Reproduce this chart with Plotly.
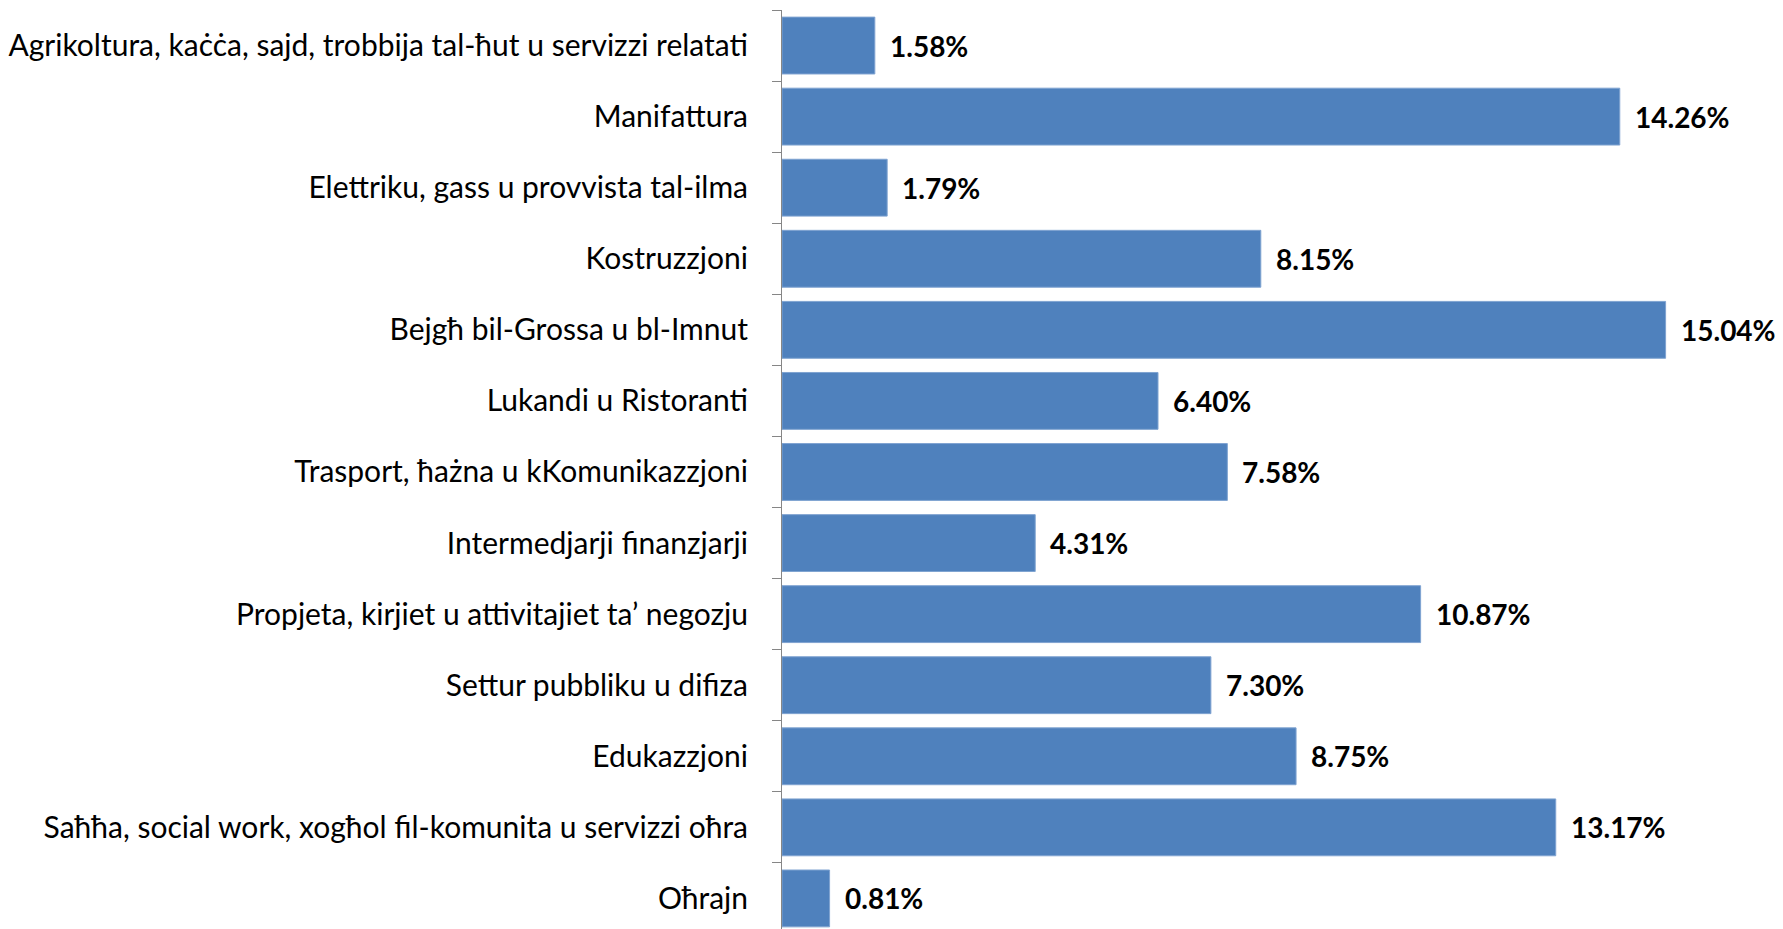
import plotly.graph_objects as go

# Share of employment by sector (Maltese labels)
SECTORS = [
    "Agrikoltura, kaċċa, sajd, trobbija tal-ħut u servizzi relatati",
    "Manifattura",
    "Elettriku, gass u provvista tal-ilma",
    "Kostruzzjoni",
    "Bejgħ bil-Grossa u bl-Imnut",
    "Lukandi u Ristoranti",
    "Trasport, ħażna u kKomunikazzjoni",
    "Intermedjarji finanzjarji",
    "Propjeta, kirjiet u attivitajiet ta’ negozju",
    "Settur pubbliku u difiza",
    "Edukazzjoni",
    "Saħħa, social work, xogħol fil-komunita u servizzi oħra",
    "Oħrajn",
]
SHARES = [1.58, 14.26, 1.79, 8.15, 15.04, 6.40, 7.58, 4.31, 10.87, 7.30, 8.75, 13.17, 0.81]

FONT = "Lato, 'Open Sans', sans-serif"

fig = go.Figure(
    go.Bar(
        x=SHARES,
        y=SECTORS,
        orientation="h",
        marker=dict(color="#4F81BD", line=dict(color="#7FA3D1", width=1)),
        width=0.8,
        hoverinfo="x+y",
    )
)

# value labels to the right of each bar
for s, v in zip(SECTORS, SHARES):
    fig.add_annotation(
        x=v, y=s, text=f"<b>{v:.2f}%</b>", showarrow=False,
        xanchor="left", xshift=13, font=dict(family=FONT, size=28, color="black"),
    )

# page body has an 8px margin, so the figure is sized and offset to suit
fig.update_layout(
    width=1775,
    height=921,
    margin=dict(l=774, r=61, t=2, b=0),
    paper_bgcolor="white",
    plot_bgcolor="white",
    showlegend=False,
    font=dict(family=FONT, size=30, color="black"),
)
fig.update_xaxes(range=[0, 16], visible=False)
fig.update_yaxes(
    type="category",
    range=[12.43, -0.5],  # last category runs slightly past the bottom edge
    showline=True,
    linecolor="#868686",
    linewidth=1,
    ticks="outside",
    tickson="boundaries",
    ticklen=9,
    tickcolor="#868686",
    showgrid=False,
    ticklabelstandoff=27,
)

fig.write_html("out.html")
